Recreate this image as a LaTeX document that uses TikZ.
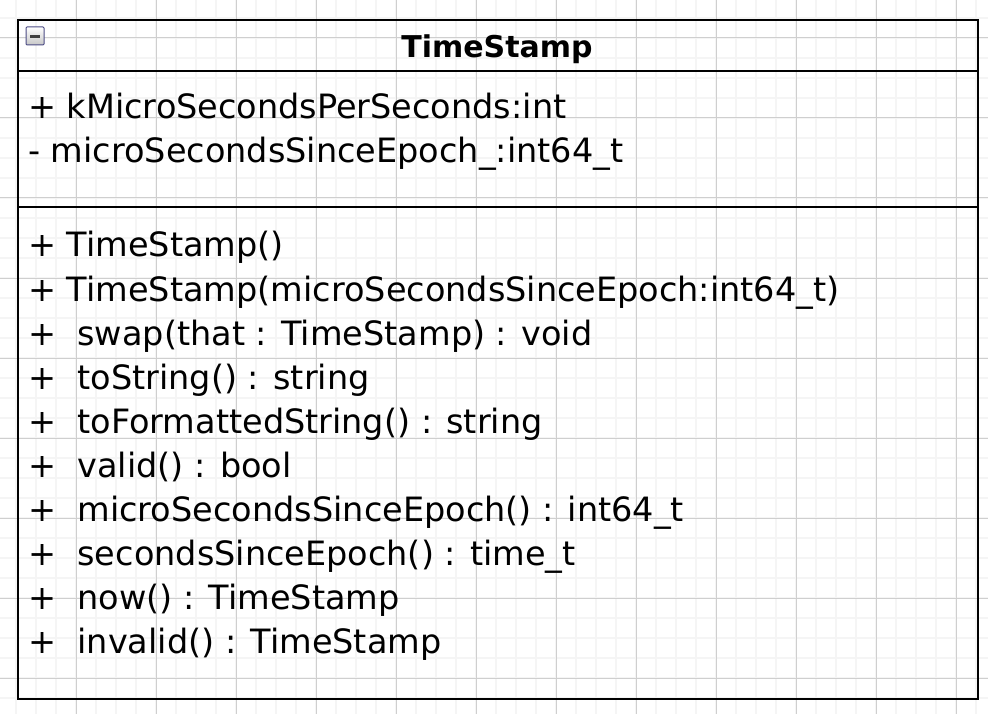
\documentclass[tikz,border=0pt]{standalone}
\usepackage{fontspec}
\setmainfont{DejaVu Sans}
\begin{document}
\begin{tikzpicture}[x=1pt,y=-1pt,
  minorln/.style={draw=black!4, line width=1.6pt},
  majorln/.style={draw=black!19, line width=1pt},
  boxln/.style={draw=black, line width=2pt},
  txt/.style={anchor=base west, inner sep=0pt, font=\fontsize{33.5}{40}\selectfont},
  ttl/.style={anchor=base, inner sep=0pt, font=\fontsize{30}{36}\selectfont\bfseries}]
\useasboundingbox (0,0) rectangle (988,714);
\fill[white] (0,0) rectangle (988,714);
% grid
\foreach \x in {16,36,...,976} \draw[minorln] (\x,0) -- (\x,714);
\foreach \y in {18,38,...,698} \draw[minorln] (0,\y) -- (988,\y);
\foreach \x in {76,156,...,956} \draw[majorln] (\x,0) -- (\x,714);
\foreach \y in {38,118,...,678} \draw[majorln] (0,\y) -- (988,\y);
% class box
\node[boxln, anchor=north west, inner sep=0pt, minimum width=960pt, minimum height=679pt] (cls) at (17,19) {};
\coordinate (s1l) at (17,71); \coordinate (s1r) at (977,71);
\coordinate (s2l) at (17,207); \coordinate (s2r) at (977,207);
\draw[boxln] (s1l) -- (s1r);
\draw[boxln] (s2l) -- (s2r);
% collapse icon
\shade[top color=white, bottom color=black!22, draw=black!45!blue!40!gray, line width=1pt, rounded corners=1pt] (26,27) rectangle (44,45);
\fill[black!75] (30,35.5) rectangle (40,38.5);
% title
\node[ttl] (title) at (497,58) {TimeStamp};
% attributes
\node[txt] (a1) at (28,119) {+ kMicroSecondsPerSeconds:int};
\node[txt] (a2) at (28,163) {- microSecondsSinceEpoch\_:int64\_t};
% methods
\node[txt] (m0) at (28,257) {+ TimeStamp()};
\node[txt] (m1) at (28,301) {+ TimeStamp(microSecondsSinceEpoch:int64\_t)};
\node[txt] (m2) at (28,345) {+~ swap(that : TimeStamp) : void};
\node[txt] (m3) at (28,389) {+~ toString() : string};
\node[txt] (m4) at (28,433) {+~ toFormattedString() : string};
\node[txt] (m5) at (28,477) {+~ valid() : bool};
\node[txt] (m6) at (28,521) {+~ microSecondsSinceEpoch() : int64\_t};
\node[txt] (m7) at (28,565) {+~ secondsSinceEpoch() : time\_t};
\node[txt] (m8) at (28,609) {+~ now() : TimeStamp};
\node[txt] (m9) at (28,653) {+~ invalid() : TimeStamp};
\end{tikzpicture}
\end{document}
